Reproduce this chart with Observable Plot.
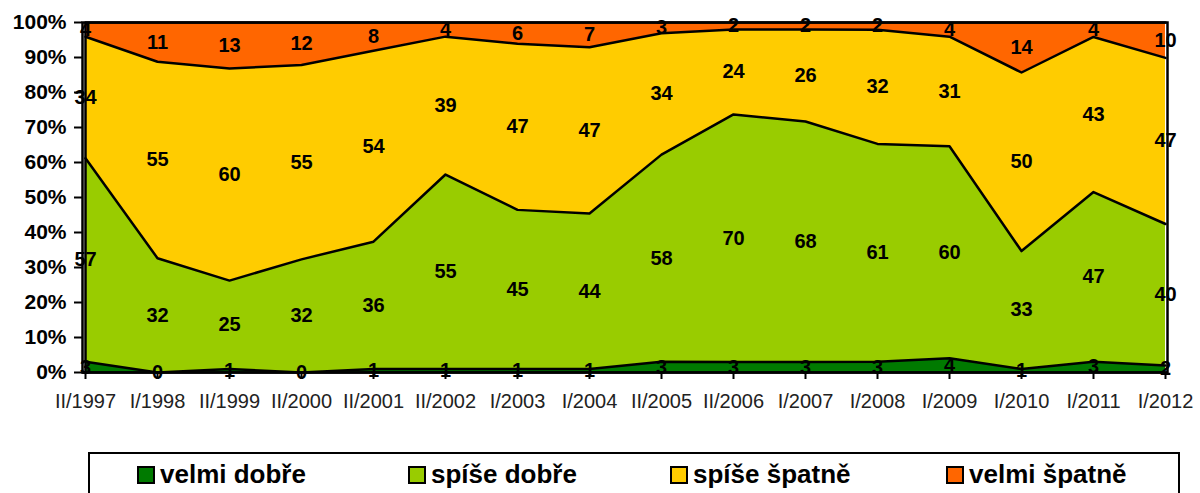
<!DOCTYPE html>
<html>
<head>
<meta charset="utf-8">
<script src="https://cdn.jsdelivr.net/npm/d3@7"></script>
<script src="https://cdn.jsdelivr.net/npm/@observablehq/plot@0.6"></script>
<style>
  body { margin: 0; background: #fff; font-family: "Liberation Sans", Arial, sans-serif; }
  #wrap { position: relative; width: 1200px; height: 493px; overflow: hidden; }
  #legend { position: absolute; left: 88px; top: 452px; width: 1092px; height: 60px; border: 2px solid #000; box-sizing: border-box; }
  .item { position: absolute; top: 5px; font-weight: bold; font-size: 26px; line-height: 30px; display: flex; align-items: center; }
  .sw { width: 14px; height: 14px; border: 2px solid #000; margin-right: 5px; margin-top: 2px; }
  #chart g[aria-label="y-axis tick label"] text { font-size: 21px; font-weight: bold; }
  #chart g[aria-label="x-axis tick label"] text { font-size: 20px; }
  #chart g[aria-label="text"] text { font-size: 20px; font-weight: bold; }
</style>
</head>
<body>
<div id="wrap">
  <div id="chart"></div>
  <div id="legend"></div>
</div>
<script>
const categories = ["II/1997","I/1998","II/1999","II/2000","II/2001","II/2002","I/2003","I/2004","II/2005","II/2006","I/2007","I/2008","I/2009","I/2010","I/2011","I/2012"];
const seriesNames = ["velmi dobře","spíše dobře","spíše špatně","velmi špatně"];
const seriesColors = ["#007a00","#99cc00","#ffcc00","#ff6600"];
const velmiDobre  = [3,0,1,0,1,1,1,1,3,3,3,3,4,1,3,2];
const spiseDobre  = [57,32,25,32,36,55,45,44,58,70,68,61,60,33,47,40];
const spiseSpatne = [34,55,60,55,54,39,47,47,34,24,26,32,31,50,43,47];
const velmiSpatne = [4,11,13,12,8,4,6,7,3,2,2,2,4,14,4,10];
const legendLeft = [47, 318, 580, 856];

const seriesValues = [velmiDobre, spiseDobre, spiseSpatne, velmiSpatne];
const data = [];
seriesValues.forEach((vals, si) => {
  vals.forEach((v, i) => data.push({cat: categories[i], series: seriesNames[si], value: v}));
});

const chart = Plot.plot({
  width: 1200,
  height: 430,
  marginLeft: 82,
  marginRight: 33,
  marginTop: 22,
  marginBottom: 58,
  style: {fontFamily: "'Liberation Sans', Arial, sans-serif", background: "transparent"},
  x: {type: "point", domain: categories, padding: 0, label: null},
  y: {domain: [0, 1], label: null},
  color: {domain: seriesNames, range: seriesColors},
  marks: [
    Plot.areaY(data, Plot.stackY({x: "cat", y: "value", z: "series", fill: "series", offset: "normalize"})),
    Plot.lineY(data, Plot.stackY2({x: "cat", y: "value", z: "series", offset: "normalize", stroke: "#000", strokeWidth: 2.5})),
    Plot.frame({stroke: "#000", strokeWidth: 2.5}),
    Plot.axisY({ticks: d3.range(0, 1.0001, 0.1), tickFormat: d => Math.round(d*100) + "%", tickSize: 8, tickPadding: 8, fill: "#000", strokeWidth: 2}),
    Plot.axisX({tickSize: 7, tickPadding: 14, fill: "#222", strokeWidth: 2}),
    Plot.ruleY([0], {stroke: "#000", strokeWidth: 2.5}),
    Plot.ruleX([categories[0]], {stroke: "#000", strokeWidth: 2.5}),
    Plot.text(data, Plot.stackY({x: "cat", y: "value", z: "series", offset: "normalize", text: d => String(d.value), fill: "#000"}))
  ]
});
document.getElementById("chart").appendChild(chart);

const legend = document.getElementById("legend");
seriesNames.forEach((n, i) => {
  const it = document.createElement("div");
  it.className = "item";
  it.style.left = legendLeft[i] + "px";
  it.innerHTML = `<span class="sw" style="background:${seriesColors[i]}"></span><span>${n}</span>`;
  legend.appendChild(it);
});
</script>
</body>
</html>
